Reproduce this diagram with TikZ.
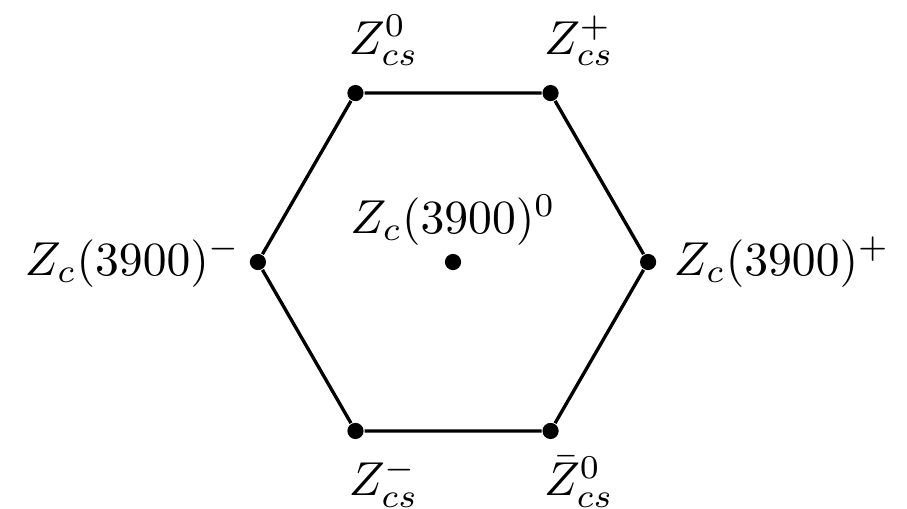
\documentclass[tikz,border=0pt]{standalone}
\usepackage{amsmath}
\usetikzlibrary{positioning}

\begin{document}
\begin{tikzpicture}[
    vtx/.style={circle, fill=black, inner sep=0pt, minimum size=3.4pt},
    edge/.style={line width=0.7pt, black},
    lbl/.style={font=\normalsize}
]
    \useasboundingbox (-3.344,-1.823) rectangle (3.351,1.934);

    \node[vtx] (zcp)    at (0:1.44)   {};
    \node[vtx] (zcsp)   at (60:1.44)  {};
    \node[vtx] (zcs0)   at (120:1.44) {};
    \node[vtx] (zcm)    at (180:1.44) {};
    \node[vtx] (zcsm)   at (240:1.44) {};
    \node[vtx] (zcsbar) at (300:1.44) {};
    \node[vtx] (zc0)    at (0,0)      {};

    \draw[edge] (zcp) -- (zcsp) -- (zcs0) -- (zcm) -- (zcsm) -- (zcsbar) -- (zcp);

    \node[lbl, anchor=base west] (lzcs0) at ([xshift=-4.9pt, yshift=8.2pt]zcs0.center) {$Z_{cs}^0$};
    \node[lbl, anchor=base west] (lzcsp) at ([xshift=-4.9pt, yshift=8.2pt]zcsp.center) {$Z_{cs}^+$};
    \node[lbl, anchor=base west] (lzcsm) at ([xshift=-4.9pt, yshift=-13.6pt]zcsm.center) {$Z_{cs}^-$};
    \node[lbl, anchor=base west] (lzcsbar) at ([xshift=-4.9pt, yshift=-13.6pt]zcsbar.center) {$\bar{Z}_{cs}^0$};
    \node[lbl, left=0pt of zcm.center] (lzcm) {$Z_c(3900)^-$};
    \node[lbl, right=0pt of zcp] (lzcp) {$Z_c(3900)^+$};
    \node[lbl, above=0pt of zc0.center] (lzc0) {$Z_c(3900)^0$};
\end{tikzpicture}
\end{document}
